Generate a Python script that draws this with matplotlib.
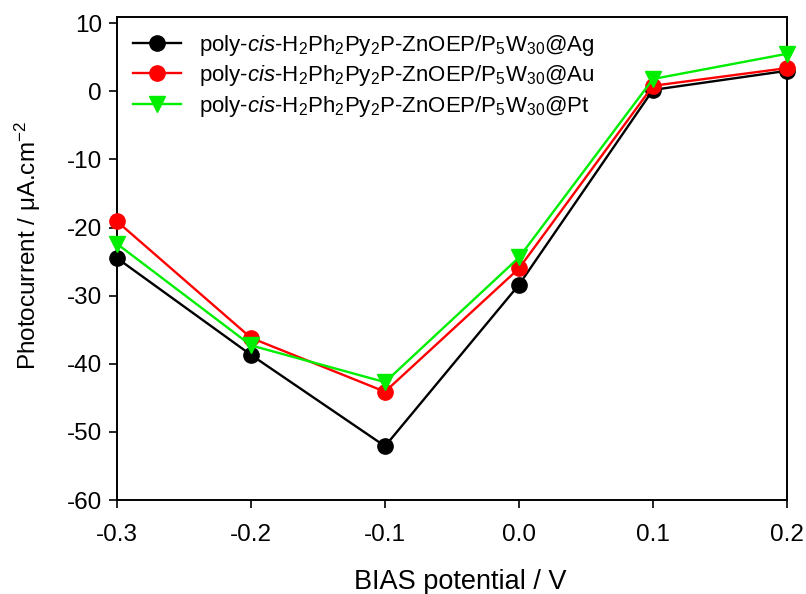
import matplotlib
matplotlib.use("Agg")
import matplotlib.pyplot as plt

plt.rcParams['font.family'] = ['Liberation Sans', 'DejaVu Sans']
plt.rcParams['mathtext.fontset'] = 'custom'
plt.rcParams['mathtext.rm'] = 'Liberation Sans'
plt.rcParams['mathtext.it'] = 'Liberation Sans:italic'
plt.rcParams['mathtext.default'] = 'regular'

bias = [-0.3, -0.2, -0.1, 0.0, 0.1, 0.2]
ag = [-24.5, -38.7, -52.1, -28.4, 0.2, 3.0]
au = [-19.1, -36.2, -44.1, -26.0, 0.8, 3.4]
pt = [-22.4, -37.3, -42.7, -24.4, 1.8, 5.5]

base = r'poly-$\it{cis}$-H$_2$Ph$_2$Py$_2$P-ZnOEP/P$_5$W$_{30}$'
labels = [base + '@Ag', base + '@Au', base + '@Pt']

fig = plt.figure(figsize=(8.06, 5.94), dpi=100)
ax = fig.add_axes([0.1452, 0.1582, 0.8312, 0.8132])

ax.plot(bias, ag, color='black', marker='o', ms=11, lw=1.7, label=labels[0], clip_on=False, zorder=3)
ax.plot(bias, au, color='#ff0000', marker='o', ms=11, lw=1.7, label=labels[1], clip_on=False, zorder=4)
ax.plot(bias, pt, color='#00ee00', marker='v', ms=11, lw=1.7, label=labels[2], clip_on=False, zorder=5)

ax.set_xlim(-0.3, 0.2)
ax.set_ylim(-60, 10.9)
ax.set_xticks([-0.3, -0.2, -0.1, 0.0, 0.1, 0.2])
ax.set_xticklabels(['-0.3', '-0.2', '-0.1', '0.0', '0.1', '0.2'])
ax.set_yticks([-60, -50, -40, -30, -20, -10, 0, 10])
ax.set_yticklabels(['-60', '-50', '-40', '-30', '-20', '-10', '0', '10'])
ax.tick_params(direction='out', length=6, width=1.2, labelsize=17.5)
ax.tick_params(axis='x', pad=11.5)
ax.tick_params(axis='y', pad=5)
for s in ax.spines.values():
    s.set_linewidth(1.4)

ax.set_xlabel('BIAS potential / V', fontsize=19.5)
ax.set_ylabel(r'Photocurrent / $\mu$A.cm$^{-2}$', fontsize=17.5)
ax.xaxis.set_label_coords(0.512, -0.143)
ax.yaxis.set_label_coords(-0.111, 0.528)

ax.legend(loc='upper left', frameon=False, fontsize=16, handlelength=2.2,
          borderaxespad=0.3, labelspacing=0.25, handletextpad=0.8)

fig.savefig('out.png', dpi=100)
